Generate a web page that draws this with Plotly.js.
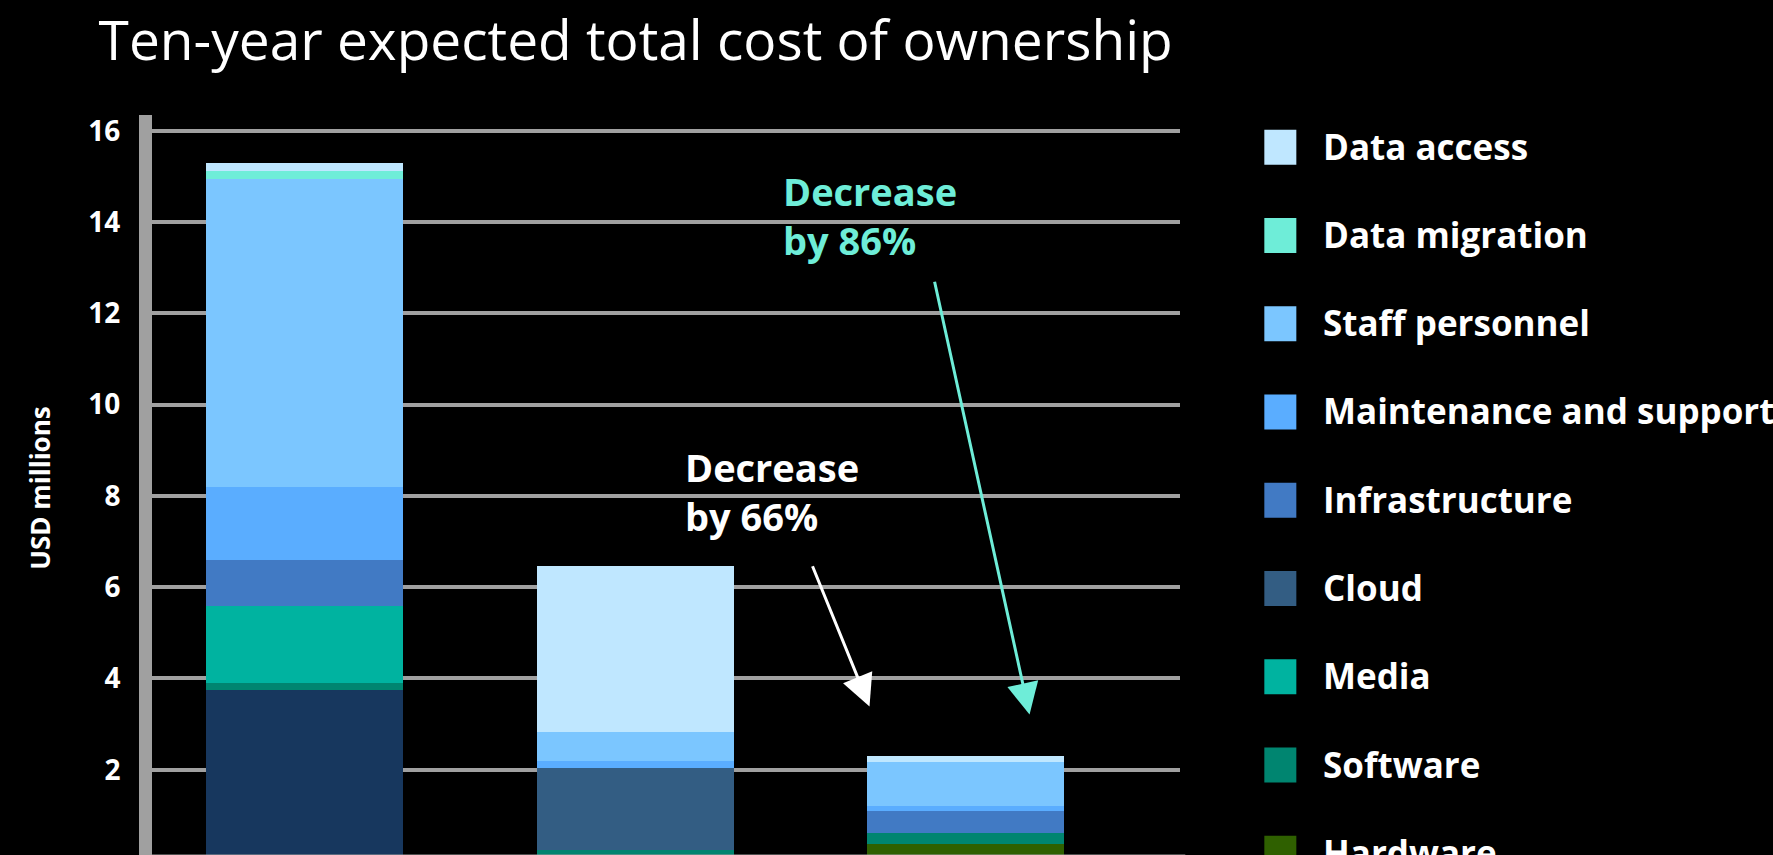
<!DOCTYPE html>
<html><head><meta charset="utf-8">
<script src="https://cdn.plot.ly/plotly-3.0.1.min.js"></script>
<style>html,body{margin:0;padding:0;background:#000;overflow:hidden;width:1773px;height:855px}#chart{width:1773px;height:900px}</style>
</head><body><div id="chart"></div><script>
// ---- data ----
const categories = ['All disk', 'All cloud', 'Tape'];
const seriesNames = ['Disk systems', 'Hardware', 'Software', 'Media', 'Cloud', 'Infrastructure',
  'Maintenance and support', 'Staff personnel', 'Data migration', 'Data access'];
const diskSystems = [3.75, 0, 0];
const hardware = [0, 0, 0.38];
const software = [0.16, 0.25, 0.24];
const media = [1.68, 0, 0];
const cloud = [0, 1.79, 0];
const infrastructure = [1.01, 0, 0.48];
const maintenance = [1.60, 0.16, 0.105];
const staff = [6.75, 0.63, 0.965];
const dataMigration = [0.17, 0, 0];
const dataAccess = [0.18, 3.64, 0.13];
const yTickVals = [2, 4, 6, 8, 10, 12, 14, 16];
const annotationTexts = ['Decrease<br>by 66%', 'Decrease<br>by 86%'];
const titleText = 'Ten-year expected total cost of ownership';
const yTitleText = 'USD millions';

// ---- style ----
const seriesValues = [diskSystems, hardware, software, media, cloud, infrastructure, maintenance, staff, dataMigration, dataAccess];
const seriesColors = ['#17375e', '#2f6000', '#008570', '#00b3a0', '#335d83', '#417ac4', '#5aadff', '#7bc6ff', '#6eedd8', '#bfe7ff'];
const FONT = 'Open Sans, Noto Sans, sans-serif';
const GRAY = '#a0a0a0';
const H = 900, VIEW_H = 855;
const G = {l: 152, r: 1179.7, t: 115, b: 861.3};
const pxX = px => (px - G.l) / (G.r - G.l);
const pxY = py => (G.b - py) / (G.b - G.t);

const traces = seriesValues.map((vals, i) => ({
  type: 'bar', x: categories, y: vals, name: seriesNames[i],
  marker: {color: seriesColors[i], line: {width: 0}}, showlegend: false, hoverinfo: 'name+y'
}));

// manual legend (top-down order = reversed stacking); only entries that reach the visible window
const shapes = [];
const annotations = [];
const order = seriesNames.map((_, i) => seriesNames.length - 1 - i);
order.forEach((si, k) => {
  const c = 147.2 + 88.3 * k;
  if (c - 17.5 > VIEW_H) return;
  shapes.push({type: 'rect', xref: 'paper', yref: 'paper', x0: pxX(1264), x1: pxX(1296),
    y0: pxY(c + 17.5), y1: pxY(c - 17.5), fillcolor: seriesColors[si], line: {width: 0}});
  annotations.push({xref: 'paper', yref: 'paper', x: pxX(1321), y: pxY(c - 1), xanchor: 'left', yanchor: 'middle',
    text: seriesNames[si], showarrow: false, font: {family: FONT, size: 35, weight: 700, color: '#ffffff'}});
});
// x axis baseline
shapes.push({type: 'line', xref: 'paper', yref: 'y', x0: 0, x1: pxX(1185), y0: 0, y1: 0, line: {color: GRAY, width: 13}, layer: 'above'});

// callouts
annotations.push({xref: 'paper', yref: 'paper', x: pxX(683), y: pxY(439), xanchor: 'left', yanchor: 'top', align: 'left',
  text: annotationTexts[0], showarrow: false, font: {family: FONT, size: 38, weight: 700, color: '#ffffff'}});
annotations.push({xref: 'paper', yref: 'paper', x: pxX(781), y: pxY(163), xanchor: 'left', yanchor: 'top', align: 'left',
  text: annotationTexts[1], showarrow: false, font: {family: FONT, size: 38, weight: 700, color: '#6eedd8'}});
annotations.push({xref: 'paper', yref: 'paper', x: pxX(869.3), y: pxY(706.7), text: '', showarrow: true,
  axref: 'pixel', ayref: 'pixel', ax: -57.6, ay: -141.7, arrowhead: 2, arrowsize: 2.1, arrowwidth: 3, arrowcolor: '#ffffff', standoff: 0, startstandoff: 0});
annotations.push({xref: 'paper', yref: 'paper', x: pxX(1029.3), y: pxY(714.7), text: '', showarrow: true,
  axref: 'pixel', ayref: 'pixel', ax: -95.3, ay: -434.2, arrowhead: 2, arrowsize: 2.1, arrowwidth: 3, arrowcolor: '#6eedd8', standoff: 0, startstandoff: 0});

const layout = {
  width: 1773, height: H,
  margin: {l: G.l, r: 1773 - G.r, t: G.t, b: H - G.b, pad: 0},
  paper_bgcolor: '#000000', plot_bgcolor: '#000000',
  barmode: 'stack', bargap: 0.404,
  showlegend: false,
  title: {text: titleText, font: {family: FONT, size: 55, color: '#ffffff'},
    xref: 'paper', x: pxX(635.5), xanchor: 'center', yref: 'container', y: 1 - 41 / H, yanchor: 'middle'},
  xaxis: {range: [-0.4614, 2.6482], showgrid: false, zeroline: false, showline: false, showticklabels: false,
    fixedrange: true},
  yaxis: {range: [0, 16.348], tickvals: yTickVals, showgrid: true, gridcolor: GRAY, gridwidth: 4,
    zeroline: false, showline: true, linecolor: GRAY, linewidth: 13, ticks: '', ticklabelstandoff: 13,
    tickfont: {family: FONT, size: 28, weight: 700, color: '#ffffff'},
    title: {text: yTitleText, font: {family: FONT, size: 26, weight: 700, color: '#ffffff'}, standoff: 36},
    automargin: false, fixedrange: true},
  shapes: shapes, annotations: annotations
};
Plotly.newPlot('chart', traces, layout, {displayModeBar: false, staticPlot: true});
</script></body></html>
